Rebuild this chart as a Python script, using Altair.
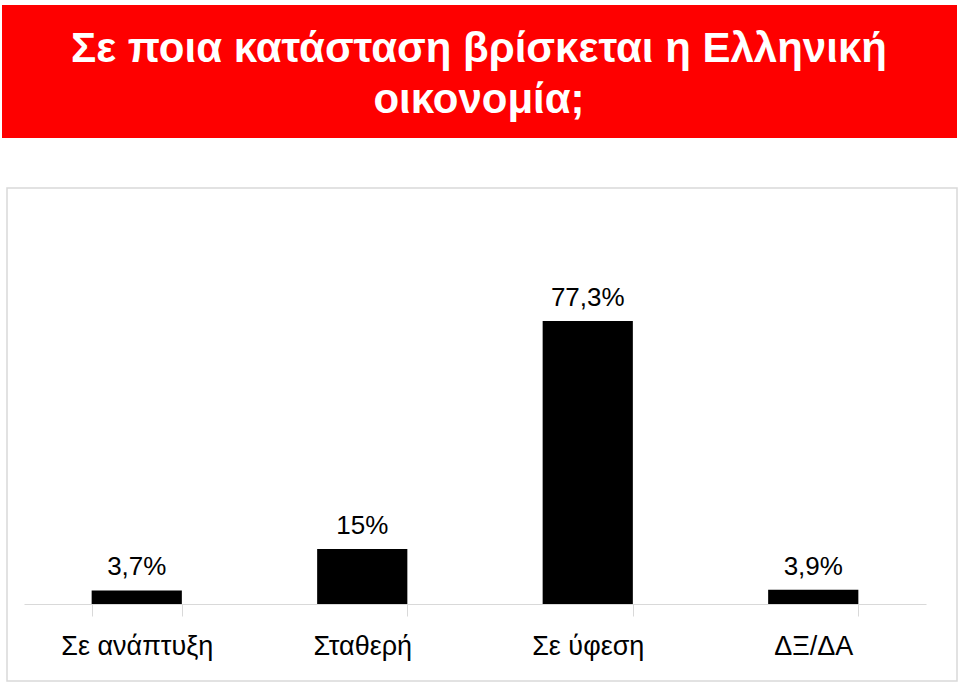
import altair as alt
import pandas as pd

categories = ["Σε ανάπτυξη", "Σταθερή", "Σε ύφεση", "ΔΞ/ΔΑ"]
values = [3.7, 15.0, 77.3, 3.9]
value_labels = ["3,7%", "15%", "77,3%", "3,9%"]
title_lines = ["Σε ποια κατάσταση βρίσκεται η Ελληνική", "οικονομία;"]

df = pd.DataFrame({"cat": categories, "val": values, "lab": value_labels})

W, H = 902, 366
x_enc = alt.X(
    "cat:N",
    sort=categories,
    title=None,
    scale=alt.Scale(paddingInner=0.6, paddingOuter=0.3),
    axis=alt.Axis(
        labelAngle=0,
        labelFontSize=27,
        labelFont="Liberation Sans",
        labelColor="#000000",
        labelPadding=17,
        tickSize=12,
        tickBand="extent",
        tickColor="#d9d9d9",
        domainColor="#d9d9d9",
        domainWidth=1,
        tickWidth=1,
    ),
)
y_enc = alt.Y("val:Q", scale=alt.Scale(domain=[0, 100]), axis=None)

one = alt.Data(values=[{"a": 1}])

banner = alt.Chart(one).mark_rect(color="#fe0000").encode(
    x=alt.value(-22), x2=alt.value(933), y=alt.value(-233), y2=alt.value(-100)
)
panel = alt.Chart(one).mark_rect(fill=None, stroke="#d9d9d9", strokeWidth=1.5).encode(
    x=alt.value(-17), x2=alt.value(933), y=alt.value(-50), y2=alt.value(443)
)
title = alt.Chart(one).mark_text(
    font="Liberation Sans Narrow, Arial Narrow, Liberation Sans, sans-serif",
    fontSize=42,
    fontWeight="bold",
    color="#ffffff",
    align="center",
    baseline="alphabetic",
    lineHeight=51,
).encode(x=alt.value(455), y=alt.value(-176), text=alt.value(title_lines))

base = alt.Chart(df)
bars = base.mark_bar(color="#000000").encode(x=x_enc, y=y_enc)
texts = base.mark_text(
    baseline="alphabetic", dy=-15, fontSize=26, font="Liberation Sans", color="#000000"
).encode(x=alt.X("cat:N", sort=categories), y="val:Q", text="lab:N")

chart = (
    alt.layer(banner, panel, title, bars, texts)
    .properties(
        width=W,
        height=H,
        padding={"left": 24, "top": 238, "right": 34, "bottom": 79},
        autosize=alt.AutoSizeParams(type="none"),
    )
    .configure_view(stroke=None)
)

chart.save("out.html", embed_options={"renderer": "svg", "actions": False})
